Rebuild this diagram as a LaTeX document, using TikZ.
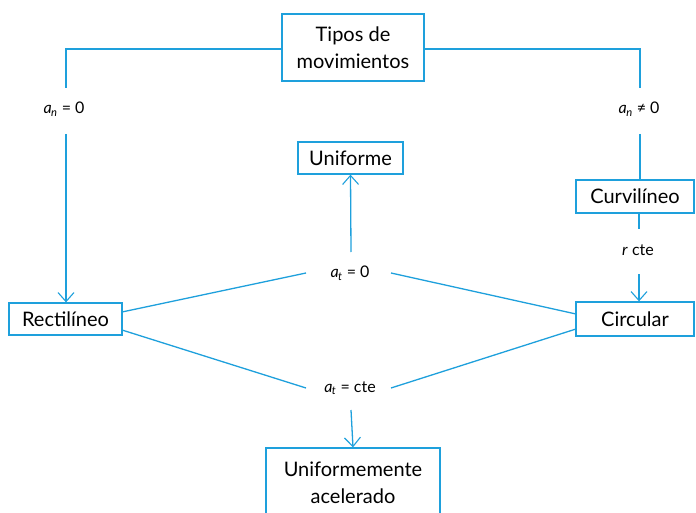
\documentclass[tikz,border=0pt]{standalone}
\usepackage{fontspec}
\setmainfont{Lato}
\usetikzlibrary{arrows.meta}
\definecolor{lblue}{RGB}{30,160,220}
\newcommand{\var}[2]{\textit{#1}\textsubscript{\kern-0.5pt\textit{#2}}}
\tikzset{
  box/.style={draw=lblue, line width=1.3pt, fill=white, inner sep=0pt, align=center, font=\fontsize{20}{27}\selectfont, anchor=center},
  lbl/.style={inner sep=0pt, font=\fontsize{16}{18}\selectfont, anchor=center},
  conn/.style={draw=lblue, line width=1.3pt},
  arr/.style={conn, -{Straight Barb[length=9pt, width=16pt, line width=1.1pt]}}
}
\begin{document}
\begin{tikzpicture}[x=1pt, y=-1pt]
\useasboundingbox (0,0) rectangle (696,513);
% nodes
\node[box, minimum width=142pt, minimum height=67pt] (tipos) at (353,47.5) {Tipos de\\movimientos};
\node[box, minimum width=105pt, minimum height=32pt] (unif) at (350.5,158) {Uniforme};
\node[box, minimum width=118pt, minimum height=33pt] (curv) at (635,196.5) {Curvilíneo};
\node[box, minimum width=113pt, minimum height=32pt] (rect) at (65.5,319) {Rectilíneo};
\node[box, minimum width=118pt, minimum height=34pt] (circ) at (635,319) {Circular};
\node[box, minimum width=174pt, minimum height=70pt] (ua) at (353,483) {Uniformemente\\acelerado};
% labels
\node[lbl] (an0) at (64,109) {\var{a}{n} = 0};
\node[lbl] (ann) at (639,109) {\var{a}{n} ≠ 0};
\node[lbl] (rcte) at (638,250) {\textit{r} cte};
\node[lbl] (at0) at (350,273) {\var{a}{t} = 0};
\node[lbl] (atc) at (350,388) {\var{a}{t} = cte};
% helper coordinates
\coordinate (lt) at (66,49);
\coordinate (rt) at (640,49);
% connectors
\draw[conn] (tipos.west |- lt) -- (lt) -- (66,88);
\draw[arr] (66,134) -- (rect.north -| 66,0);
\draw[conn] (tipos.east |- rt) -- (rt) -- (640,88);
\draw[conn] (640,134) -- (curv.north -| 640,0);
\draw[conn] (curv.south -| 639,0) -- (639,229);
\draw[arr] (639,274) -- (circ.north -| 639,0);
\draw[conn] (122,312) -- (306,273);
\draw[conn] (391,273) -- (576,314);
\draw[arr] (351,252) -- (unif.south);
\draw[conn] (122,330) -- (306,388);
\draw[conn] (391,388) -- (576,329);
\draw[arr] (351,410) -- (ua.north);
\end{tikzpicture}
\end{document}
